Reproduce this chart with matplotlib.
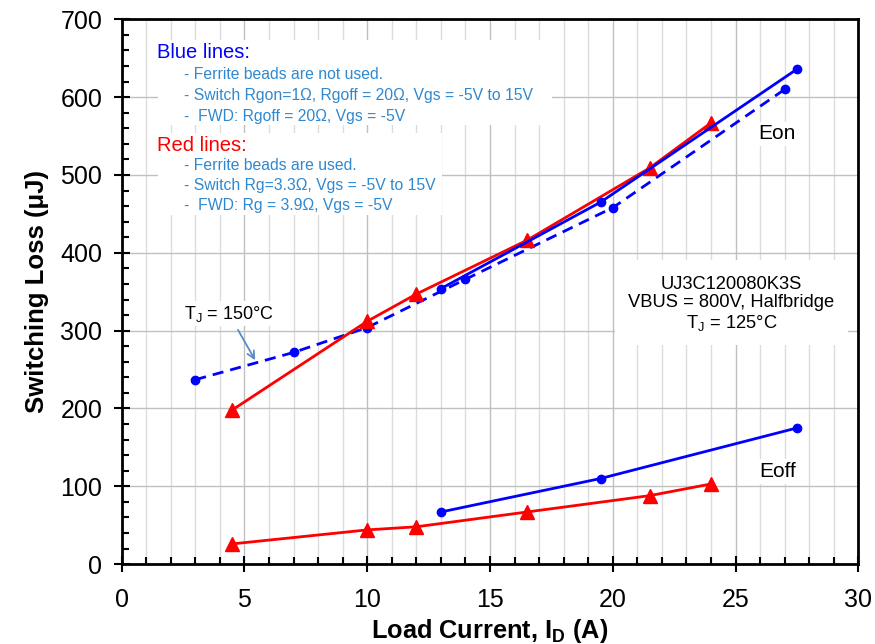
import matplotlib
matplotlib.use("Agg")
import matplotlib.pyplot as plt
from matplotlib.patches import Rectangle
from matplotlib.ticker import MultipleLocator

plt.rcParams['font.family'] = ['Liberation Sans', 'DejaVu Sans']
plt.rcParams['mathtext.fontset'] = 'custom'
plt.rcParams['mathtext.rm'] = 'Liberation Sans'
plt.rcParams['mathtext.bf'] = 'Liberation Sans:bold'

# Eon, no ferrite beads (blue solid)
eon_blue_x = [13, 19.5, 27.5]
eon_blue_y = [354, 465, 636]
# Eon, TJ = 150C (blue dashed)
eon_hot_x = [3, 7, 10, 14, 20, 27]
eon_hot_y = [237, 272, 304, 366, 458, 610]
# Eon, ferrite beads (red)
eon_red_x = [4.5, 10, 12, 16.5, 21.5, 24]
eon_red_y = [198, 312, 347, 416, 509, 567]
# Eoff, no ferrite beads (blue)
eoff_blue_x = [13, 19.5, 27.5]
eoff_blue_y = [67, 110, 175]
# Eoff, ferrite beads (red)
eoff_red_x = [4.5, 10, 12, 16.5, 21.5, 24]
eoff_red_y = [26, 44, 48, 67, 88, 103]

blue_notes = ["- Ferrite beads are not used.",
              "- Switch Rgon=1\u03a9, Rgoff = 20\u03a9, Vgs = -5V to 15V",
              "-  FWD: Rgoff = 20\u03a9, Vgs = -5V"]
red_notes = ["- Ferrite beads are used.",
             "- Switch Rg=3.3\u03a9, Vgs = -5V to 15V",
             "-  FWD: Rg = 3.9\u03a9, Vgs = -5V"]

note_col = '#2F88D0'

fig = plt.figure(figsize=(8.75, 6.44), dpi=100)
ax = fig.add_axes([0.139, 0.124, 0.842, 0.846])

ax.set_xlim(0, 30)
ax.set_ylim(0, 700)
ax.xaxis.set_major_locator(MultipleLocator(5))
ax.xaxis.set_minor_locator(MultipleLocator(1))
ax.yaxis.set_major_locator(MultipleLocator(100))
ax.yaxis.set_minor_locator(MultipleLocator(20))
ax.grid(which='minor', axis='x', color='#dcdcdc', lw=1.0, zorder=0)
ax.grid(which='major', axis='x', color='#c0c0c0', lw=1.0, zorder=0)
ax.grid(which='major', axis='y', color='#c0c0c0', lw=1.0, zorder=0)
ax.set_axisbelow(True)
ax.tick_params(which='major', direction='inout', length=12, width=1.5, labelsize=18)
ax.tick_params(axis='x', which='major', pad=11)
ax.tick_params(axis='y', which='major', pad=8)
ax.tick_params(which='minor', direction='in', length=5, width=1.5)
for s in ax.spines.values():
    s.set_linewidth(2)

# white boxes hiding the grid behind the notes
for (x0, y0, w, h) in [(0.049, 0.806, 0.535, 0.156),
                       (0.049, 0.640, 0.386, 0.152),
                       (0.670, 0.402, 0.316, 0.156)]:
    ax.add_patch(Rectangle((x0, y0), w, h, transform=ax.transAxes,
                           facecolor='white', edgecolor='none', zorder=1))

ax.plot(eon_hot_x, eon_hot_y, color='#0000FF', lw=2, ls=(0, (4, 2.5)),
        marker='o', ms=6, zorder=3)
ax.plot(eon_red_x, eon_red_y, color='#FF0000', lw=2, marker='^', ms=10, zorder=3)
ax.plot(eon_blue_x, eon_blue_y, color='#0000FF', lw=2, marker='o', ms=6, zorder=4)
ax.plot(eoff_red_x, eoff_red_y, color='#FF0000', lw=2, marker='^', ms=10, zorder=3)
ax.plot(eoff_blue_x, eoff_blue_y, color='#0000FF', lw=2, marker='o', ms=6, zorder=4)

ax.text(0.048, 0.939, "Blue lines:", transform=ax.transAxes, color='#0000FF',
        fontsize=14.5, va='center', zorder=5)
for i, s in enumerate(blue_notes):
    ax.text(0.085, 0.899 - i * 0.039, s, transform=ax.transAxes, color=note_col,
            fontsize=11.3, va='center', zorder=5)
ax.text(0.048, 0.769, "Red lines:", transform=ax.transAxes, color='#FF0000',
        fontsize=14.5, va='center', zorder=5)
for i, s in enumerate(red_notes):
    ax.text(0.085, 0.732 - i * 0.037, s, transform=ax.transAxes, color=note_col,
            fontsize=11.3, va='center', zorder=5)

ax.text(24.83, 334, "UJ3C120080K3S\nVBUS = 800V, Halfbridge\nT$_\\mathregular{J}$ = 125\u00b0C",
        ha='center', va='center', fontsize=13.2, linespacing=1.1, zorder=5)

ax.annotate("T$_\\mathregular{J}$ = 150\u00b0C", xy=(5.44, 262), xytext=(4.36, 322),
            ha='center', va='center', fontsize=13, zorder=5,
            bbox=dict(facecolor='white', edgecolor='none', pad=2),
            arrowprops=dict(arrowstyle='->', color='#5A8AC6', lw=1.3,
                            shrinkA=3, shrinkB=0))

ax.text(26.7, 553, "Eon", ha='center', va='center', fontsize=15, zorder=5,
        bbox=dict(facecolor='white', edgecolor='none', pad=2))
ax.text(26.7, 119, "Eoff", ha='center', va='center', fontsize=15, zorder=5,
        bbox=dict(facecolor='white', edgecolor='none', pad=2))

ax.set_xlabel("Load Current, I$_{\\mathbf{D}}$ (A)", fontsize=18.3, fontweight='bold', labelpad=4)
ax.set_ylabel("Switching Loss (\u03bcJ)", fontsize=18.5, fontweight='bold', labelpad=8)

fig.savefig("out.png", dpi=100)
